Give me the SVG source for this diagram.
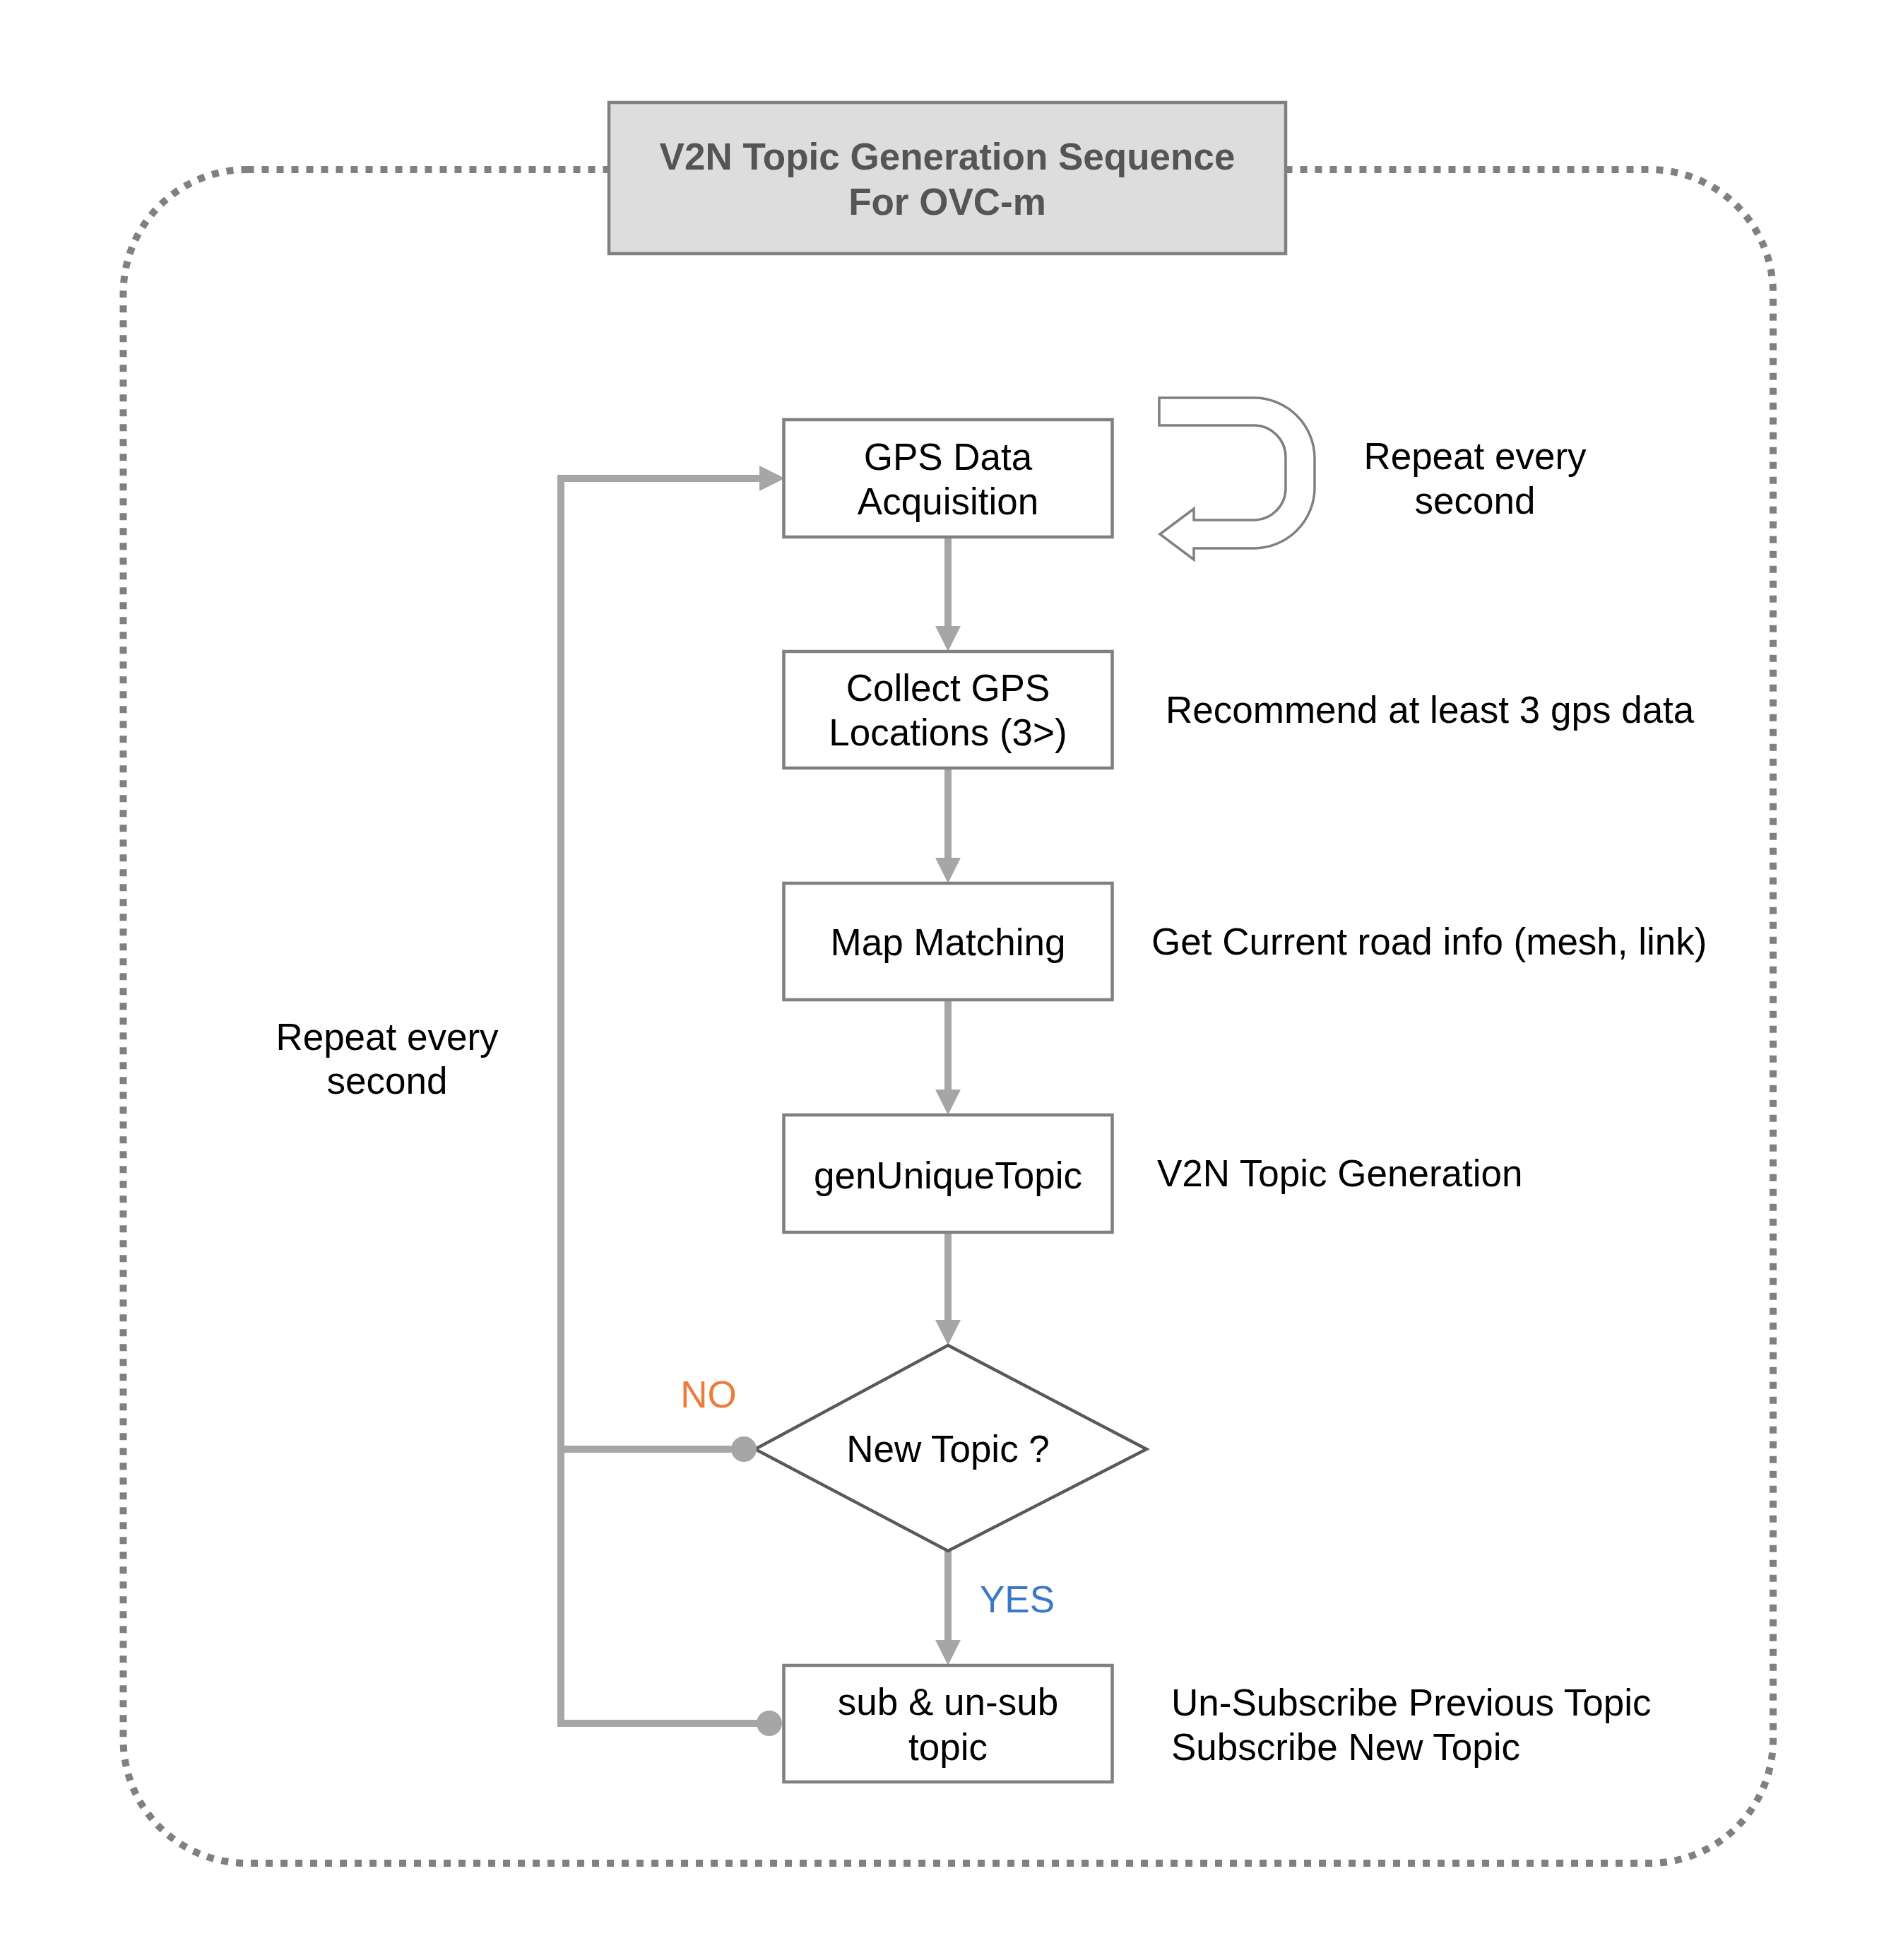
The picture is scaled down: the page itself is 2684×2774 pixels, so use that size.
<svg xmlns="http://www.w3.org/2000/svg" width="2684" height="2774" viewBox="0 0 2684 2774">
<style>
text{font-family:"Liberation Sans",Arial,Helvetica,sans-serif;font-size:53px;fill:#000}
.c{text-anchor:middle}
.title{font-weight:bold;fill:#555555}
.box{fill:#fff;stroke:#808080;stroke-width:4.5}
.conn{fill:none;stroke:#a6a6a6;stroke-width:10}
.dot{fill:#a6a6a6}
</style>
<defs>
<marker id="ah" markerUnits="userSpaceOnUse" markerWidth="36" markerHeight="36" refX="0" refY="18" orient="auto">
<path d="M0,0 L36,18 L0,36 Z" fill="#a6a6a6"/>
</marker>
</defs>
<rect width="2684" height="2774" fill="#fff"/>
<g id="frame">
<rect x="174.5" y="240" width="2335.5" height="2397" rx="175" ry="175" fill="none" stroke="#808080" stroke-width="10" stroke-dasharray="10 11"/>
</g>
<g id="title">
<rect x="862" y="145" width="958" height="214" fill="#dddddd" stroke="#808080" stroke-width="4.5"/>
<text class="c title" x="1341" y="240">V2N Topic Generation Sequence</text>
<text class="c title" x="1341" y="304">For OVC-m</text>
</g>
<g id="connectors">
<polyline class="conn" points="794,2444 794,677 1075,677" marker-end="url(#ah)"/>
<line class="conn" x1="794" y1="2051" x2="1053" y2="2051"/>
<line class="conn" x1="794" y1="2439" x2="1089" y2="2439"/>
<line class="conn" x1="1342" y1="760" x2="1342" y2="886" marker-end="url(#ah)"/>
<line class="conn" x1="1342" y1="1087" x2="1342" y2="1214" marker-end="url(#ah)"/>
<line class="conn" x1="1342" y1="1415" x2="1342" y2="1542" marker-end="url(#ah)"/>
<line class="conn" x1="1342" y1="1744" x2="1342" y2="1868" marker-end="url(#ah)"/>
<line class="conn" x1="1342" y1="2195" x2="1342" y2="2321" marker-end="url(#ah)"/>
</g>
<g id="gps">
<rect class="box" x="1109.5" y="594" width="465" height="166"/>
<text class="c" x="1342" y="665">GPS Data</text>
<text class="c" x="1342" y="728">Acquisition</text>
</g>
<g id="collect">
<rect class="box" x="1109.5" y="922" width="465" height="165"/>
<text class="c" x="1342" y="992">Collect GPS</text>
<text class="c" x="1342" y="1055">Locations (3&gt;)</text>
</g>
<g id="mapmatch">
<rect class="box" x="1109.5" y="1250" width="465" height="165"/>
<text class="c" x="1342" y="1352">Map Matching</text>
</g>
<g id="gentopic">
<rect class="box" x="1109.5" y="1578" width="465" height="166"/>
<text class="c" x="1342" y="1682">genUniqueTopic</text>
</g>
<g id="newtopic">
<polygon points="1342,1904 1623,2051 1342,2195 1069,2051" fill="#fff" stroke="#595959" stroke-width="4.5"/>
<text class="c" x="1342" y="2069">New Topic ?</text>
</g>
<g id="subunsub">
<rect class="box" x="1109.5" y="2357" width="465" height="165"/>
<text class="c" x="1342" y="2427">sub &amp; un-sub</text>
<text class="c" x="1342" y="2491">topic</text>
</g>
<g id="dots">
<circle class="dot" cx="1053" cy="2051" r="18"/>
<circle class="dot" cx="1089" cy="2439" r="18"/>
</g>
<g id="repeat-arrow">
<path d="M1641,563 L1775,563 A86,86 0 0 1 1861,649 L1861,690 A86,86 0 0 1 1775,776 L1690,776 L1690,792 L1642,756 L1690,720 L1690,736 L1775,736 A45,45 0 0 0 1820,691 L1820,647 A45,45 0 0 0 1775,602 L1641,602 Z" fill="#fff" stroke="#808080" stroke-width="3.5" stroke-linejoin="miter"/>
</g>
<g id="labels">
<text class="c" x="2088" y="664">Repeat every</text>
<text class="c" x="2088" y="727">second</text>
<text x="1650" y="1023">Recommend at least 3 gps data</text>
<text x="1630" y="1351">Get Current road info (mesh, link)</text>
<text x="1638" y="1679">V2N Topic Generation</text>
<text x="1658" y="2428">Un-Subscribe Previous Topic</text>
<text x="1658" y="2491">Subscribe New Topic</text>
<text class="c" x="548" y="1486">Repeat every</text>
<text class="c" x="548" y="1548">second</text>
<text class="c" x="1003" y="1992" style="fill:#ef7b3a">NO</text>
<text x="1387" y="2282" style="fill:#3b78c8">YES</text>
</g>
</svg>
